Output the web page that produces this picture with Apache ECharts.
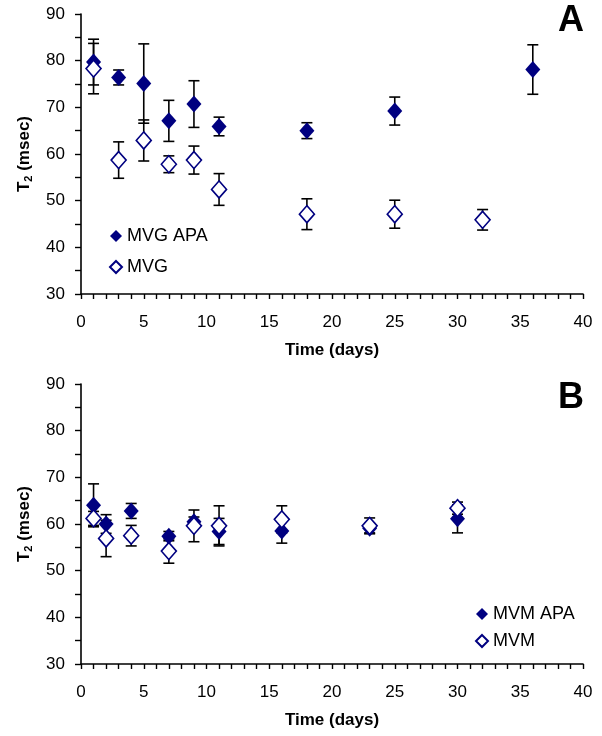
<!DOCTYPE html>
<html>
<head>
<meta charset="utf-8">
<script src="https://cdn.jsdelivr.net/npm/echarts@6/dist/echarts.min.js"></script>
<style>html,body{margin:0;padding:0;background:#fff}#c{width:602px;height:736px}</style>
</head>
<body>
<div id="c"></div>
<script>
// ---- Data (panel A) ----
const daysMvgApa = [1, 3, 5, 7, 9, 11, 18, 25, 36];
const mvgApa     = [79.7, 76.4, 75.1, 67.1, 70.7, 65.9, 65.0, 69.2, 78.1];
const mvgApaErr  = [4.9, 1.6, 8.5, 4.4, 5.0, 2.0, 1.7, 3.0, 5.3];
const daysMvg    = [1, 3, 5, 7, 9, 11, 18, 25, 32];
const mvg        = [78.3, 58.7, 62.9, 57.8, 58.7, 52.4, 47.1, 47.1, 45.9];
const mvgErr     = [5.4, 3.9, 4.4, 1.8, 3.0, 3.4, 3.3, 3.0, 2.2];
// ---- Data (panel B) ----
const daysMvmApa = [1, 2, 4, 7, 9, 11, 16, 23, 30];
const mvmApa     = [64.0, 60.0, 62.8, 57.4, 60.5, 58.4, 58.5, 59.1, 61.1];
const mvmApaErr  = [4.6, 2.0, 1.6, 1.0, 1.0, 2.8, 2.6, 1.0, 3.0];
const daysMvm    = [1, 2, 4, 7, 9, 11, 16, 23, 30];
const mvm        = [61.2, 56.9, 57.5, 54.2, 59.6, 59.6, 61.0, 59.6, 63.4];
const mvmErr     = [1.5, 3.9, 2.2, 2.6, 3.4, 4.3, 2.9, 1.7, 1.3];
// ---- Axis ticks ----
const xTicks = [0, 5, 10, 15, 20, 25, 30, 35, 40];
const yTicks = [30, 40, 50, 60, 70, 80, 90];
const panelLabels = ['A', 'B'];
const legendA = ['MVG APA', 'MVG'];
const legendB = ['MVM APA', 'MVM'];

const FONT = "'Liberation Sans', Arial, sans-serif";
const NAVY = '#000080';

function pts(xs, ys) { return xs.map((x, i) => [x, ys[i]]); }
function errs(xs, ys, es) { return xs.map((x, i) => [x, ys[i] - es[i], ys[i] + es[i]]); }

function errorSeries(idx, data) {
  return {
    type: 'custom', xAxisIndex: idx, yAxisIndex: idx, z: 1, silent: true,
    data: data,
    renderItem: function (params, api) {
      const x = api.value(0);
      const lo = api.coord([x, api.value(1)]);
      const hi = api.coord([x, api.value(2)]);
      const hw = 5.5;
      const st = { stroke: '#000', lineWidth: 1.6 };
      return {
        type: 'group',
        children: [
          { type: 'line', shape: { x1: lo[0], y1: lo[1], x2: hi[0], y2: hi[1] }, style: st },
          { type: 'line', shape: { x1: lo[0] - hw, y1: lo[1], x2: lo[0] + hw, y2: lo[1] }, style: st },
          { type: 'line', shape: { x1: hi[0] - hw, y1: hi[1], x2: hi[0] + hw, y2: hi[1] }, style: st }
        ]
      };
    }
  };
}

function filled(idx, name, data) {
  return { type: 'scatter', name: name, xAxisIndex: idx, yAxisIndex: idx, z: 3,
    symbol: 'diamond', symbolSize: [15, 17], data: data,
    itemStyle: { color: NAVY, borderColor: NAVY, borderWidth: 0, opacity: 1 } };
}
function open(idx, name, data) {
  return { type: 'scatter', name: name, xAxisIndex: idx, yAxisIndex: idx, z: 4,
    symbol: 'diamond', symbolSize: [15, 17], data: data,
    itemStyle: { color: '#fff', borderColor: NAVY, borderWidth: 1.6, opacity: 1 } };
}

function xAxis(idx) {
  return {
    type: 'value', gridIndex: idx, min: xTicks[0], max: xTicks[xTicks.length - 1],
    interval: xTicks[1] - xTicks[0],
    name: 'Time (days)', nameLocation: 'middle', nameGap: 48,
    nameTextStyle: { fontFamily: FONT, fontSize: 17, fontWeight: 'bold', color: '#000' },
    axisLine: { show: true, onZero: false, lineStyle: { color: '#000', width: 1.6 } },
    axisTick: { show: true, length: 5, lineStyle: { color: '#000', width: 1.4 } },
    minorTick: { show: true, splitNumber: 5, length: 5, lineStyle: { color: '#000', width: 1.4 } },
    axisLabel: { fontFamily: FONT, fontSize: 17, color: '#000', margin: 20 },
    splitLine: { show: false }
  };
}
function yAxis(idx) {
  return {
    type: 'value', gridIndex: idx, min: yTicks[0], max: yTicks[yTicks.length - 1],
    interval: yTicks[1] - yTicks[0],
    name: '{b|T}{s|2}{b| (msec)}', nameLocation: 'middle', nameGap: 47, nameRotate: 90,
    nameTextStyle: {
      fontFamily: FONT, color: '#000',
      rich: {
        b: { fontFamily: FONT, fontSize: 17, fontWeight: 'bold', color: '#000', lineHeight: 20 },
        s: { fontFamily: FONT, fontSize: 11, fontWeight: 'bold', color: '#000', lineHeight: 12, verticalAlign: 'bottom' }
      }
    },
    axisLine: { show: true, onZero: false, lineStyle: { color: '#000', width: 1.6 } },
    axisTick: { show: true, length: 6, lineStyle: { color: '#000', width: 1.4 } },
    minorTick: { show: true, splitNumber: 2, length: 6, lineStyle: { color: '#000', width: 1.4 } },
    axisLabel: { fontFamily: FONT, fontSize: 17, color: '#000', margin: 16 },
    splitLine: { show: false }
  };
}

function legend(names, left, top, gap) {
  return {
    data: names, orient: 'vertical', left: left, top: top, itemGap: gap,
    itemWidth: 12, itemHeight: 12, selectedMode: false,
    textStyle: { fontFamily: FONT, fontSize: 18, color: '#000', lineHeight: 18 }
  };
}

const chart = echarts.init(document.getElementById('c'), null, { renderer: 'canvas' });
chart.setOption({
  animation: false,
  backgroundColor: '#fff',
  grid: [
    { left: 81, top: 14, width: 502, height: 280 },
    { left: 81, top: 384, width: 502, height: 280 }
  ],
  xAxis: [xAxis(0), xAxis(1)],
  yAxis: [yAxis(0), yAxis(1)],
  legend: [
    legend(legendA, 104, 222, 13),
    legend(legendB, 470, 600, 9)
  ],
  graphic: [
    { type: 'text', right: 18, top: 3, style: { text: panelLabels[0], fontFamily: FONT, fontSize: 36, fontWeight: 'bold', fill: '#000' } },
    { type: 'text', right: 18, top: 380, style: { text: panelLabels[1], fontFamily: FONT, fontSize: 36, fontWeight: 'bold', fill: '#000' } }
  ],
  series: [
    errorSeries(0, errs(daysMvgApa, mvgApa, mvgApaErr)),
    errorSeries(0, errs(daysMvg, mvg, mvgErr)),
    filled(0, legendA[0], pts(daysMvgApa, mvgApa)),
    open(0, legendA[1], pts(daysMvg, mvg)),
    errorSeries(1, errs(daysMvmApa, mvmApa, mvmApaErr)),
    errorSeries(1, errs(daysMvm, mvm, mvmErr)),
    filled(1, legendB[0], pts(daysMvmApa, mvmApa)),
    open(1, legendB[1], pts(daysMvm, mvm))
  ]
});
</script>
</body>
</html>
